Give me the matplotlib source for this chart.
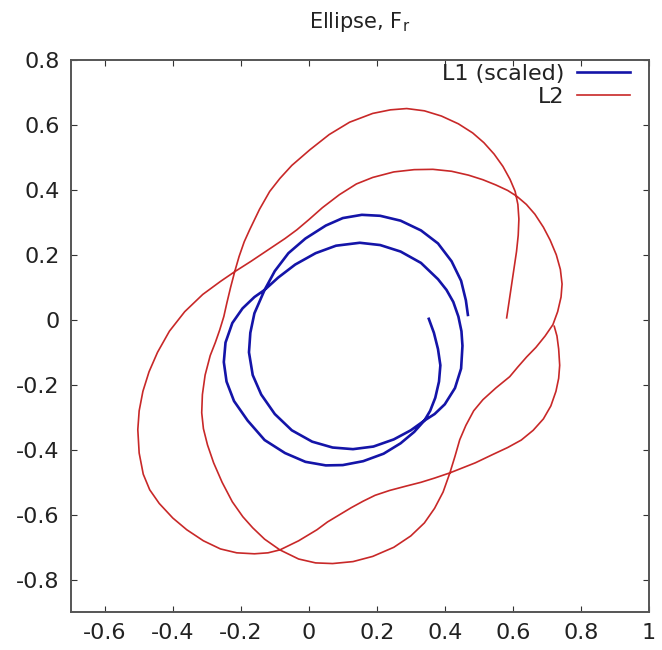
import matplotlib
matplotlib.use('Agg')
import matplotlib.pyplot as plt
from matplotlib.ticker import FuncFormatter

# L1 (scaled) -- blue, traced along the path
l1_x = [0.353, 0.368, 0.380, 0.387, 0.383, 0.372, 0.357, 0.340, 0.310, 0.270,
        0.220, 0.160, 0.100, 0.050, -0.010, -0.070, -0.130, -0.180, -0.220, -0.242,
        -0.250, -0.245, -0.225, -0.195, -0.160, -0.130, -0.090, -0.040, 0.020, 0.080,
        0.150, 0.210, 0.270, 0.330, 0.380, 0.405, 0.425, 0.440, 0.449, 0.452, 0.448, 0.430,
        0.400, 0.370, 0.340, 0.300, 0.250, 0.190, 0.130, 0.070, 0.010, -0.050,
        -0.100, -0.140, -0.165, -0.176, -0.172, -0.160, -0.130, -0.100, -0.060, -0.010,
        0.050, 0.100, 0.156, 0.210, 0.270, 0.330, 0.380, 0.420, 0.448, 0.462, 0.468]
l1_y = [0.003, -0.040, -0.090, -0.140, -0.190, -0.240, -0.280, -0.310, -0.345, -0.380,
        -0.412, -0.435, -0.447, -0.448, -0.437, -0.410, -0.370, -0.310, -0.250, -0.190,
        -0.130, -0.070, -0.010, 0.035, 0.070, 0.092, 0.130, 0.170, 0.205, 0.228,
        0.237, 0.230, 0.210, 0.175, 0.125, 0.092, 0.055, 0.010, -0.035, -0.080, -0.150, -0.210,
        -0.260, -0.290, -0.310, -0.340, -0.368, -0.390, -0.398, -0.393, -0.375, -0.340,
        -0.290, -0.230, -0.170, -0.100, -0.040, 0.020, 0.092, 0.150, 0.205, 0.250,
        0.290, 0.313, 0.323, 0.320, 0.305, 0.275, 0.235, 0.180, 0.120, 0.060, 0.015]

# L2 -- red
l2_x = [0.722, 0.730, 0.735, 0.738, 0.735, 0.727, 0.712, 0.690, 0.660, 0.625,
        0.585, 0.540, 0.490, 0.415, 0.370, 0.330, 0.285, 0.238, 0.195, 0.160,
        0.125, 0.090, 0.055, 0.024, -0.030, -0.085, -0.120, -0.160, -0.212, -0.260,
        -0.310, -0.359, -0.400, -0.440, -0.468, -0.487, -0.499, -0.503, -0.499, -0.488,
        -0.470, -0.445, -0.410, -0.365, -0.312, -0.260, -0.218, -0.170, -0.120, -0.070,
        -0.035, 0.000, 0.040, 0.090, 0.140, 0.188, 0.250, 0.310, 0.365, 0.420,
        0.470, 0.512, 0.550, 0.585, 0.612, 0.640, 0.665, 0.690, 0.710, 0.728,
        0.740, 0.745, 0.742, 0.732, 0.718, 0.695, 0.668, 0.641, 0.615, 0.591,
        0.550, 0.512, 0.485, 0.462, 0.444, 0.430, 0.415, 0.395, 0.370, 0.340,
        0.300, 0.250, 0.188, 0.130, 0.070, 0.020, -0.030, -0.085, -0.130, -0.165,
        -0.194, -0.225, -0.255, -0.280, -0.298, -0.310, -0.315, -0.313, -0.305, -0.290,
        -0.275, -0.262, -0.250, -0.241, -0.230, -0.218, -0.205, -0.190, -0.174, -0.145,
        -0.115, -0.085, -0.050, 0.003, 0.060, 0.120, 0.188, 0.240, 0.288, 0.340,
        0.390, 0.440, 0.482, 0.515, 0.545, 0.571, 0.592, 0.607, 0.615, 0.618,
        0.616, 0.611, 0.604, 0.597, 0.589, 0.582]
l2_y = [-0.020, -0.050, -0.090, -0.140, -0.180, -0.220, -0.265, -0.305, -0.340, -0.370,
        -0.393, -0.415, -0.440, -0.471, -0.487, -0.500, -0.512, -0.525, -0.540, -0.558,
        -0.578, -0.600, -0.622, -0.646, -0.680, -0.708, -0.717, -0.720, -0.717, -0.705,
        -0.680, -0.646, -0.610, -0.565, -0.523, -0.475, -0.410, -0.338, -0.280, -0.220,
        -0.160, -0.100, -0.035, 0.025, 0.078, 0.118, 0.148, 0.180, 0.215, 0.250,
        0.277, 0.308, 0.345, 0.385, 0.418, 0.438, 0.455, 0.462, 0.463, 0.457,
        0.445, 0.431, 0.415, 0.398, 0.380, 0.355, 0.325, 0.285, 0.245, 0.200,
        0.155, 0.110, 0.070, 0.025, -0.015, -0.050, -0.085, -0.114, -0.145, -0.175,
        -0.210, -0.246, -0.280, -0.325, -0.369, -0.420, -0.471, -0.530, -0.580, -0.625,
        -0.665, -0.700, -0.728, -0.744, -0.750, -0.748, -0.736, -0.708, -0.675, -0.640,
        -0.606, -0.560, -0.500, -0.440, -0.385, -0.335, -0.286, -0.230, -0.170, -0.110,
        -0.070, -0.031, 0.010, 0.052, 0.100, 0.148, 0.195, 0.240, 0.277, 0.340,
        0.395, 0.435, 0.475, 0.523, 0.570, 0.608, 0.635, 0.646, 0.650, 0.643,
        0.627, 0.603, 0.575, 0.545, 0.510, 0.472, 0.432, 0.395, 0.355, 0.310,
        0.260, 0.210, 0.160, 0.110, 0.055, 0.006]

x_ticks = [-0.6, -0.4, -0.2, 0, 0.2, 0.4, 0.6, 0.8, 1]
y_ticks = [-0.8, -0.6, -0.4, -0.2, 0, 0.2, 0.4, 0.6, 0.8]

plt.rcParams['axes.unicode_minus'] = False
plt.rcParams['mathtext.default'] = 'regular'
plt.rcParams['font.family'] = ['DejaVu Sans']

fig = plt.figure(figsize=(6.62, 6.5), dpi=100)
ax = fig.add_axes([0.107, 0.058, 0.873, 0.850])

line1, = ax.plot(l1_x, l1_y, color='#1414a8', lw=1.9)
line2, = ax.plot(l2_x, l2_y, color='#c82828', lw=1.2)

ax.set_xlim(-0.7, 1.0)
ax.set_ylim(-0.9, 0.8)
ax.set_xticks(x_ticks)
ax.set_yticks(y_ticks)
fmt = FuncFormatter(lambda v, p: '%g' % round(v, 2))
ax.xaxis.set_major_formatter(fmt)
ax.yaxis.set_major_formatter(fmt)
ax.tick_params(direction='in', top=True, right=True, length=4, width=0.8,
               labelsize=16, colors='#333333', labelcolor='#222222', pad=8)
for s in ax.spines.values():
    s.set_color('#555555')
    s.set_linewidth(1.4)

ax.set_title('Ellipse, F$_r$', fontsize=15, color='#222222', pad=23)

leg1 = ax.legend([line1], ['L1 (scaled)'], loc='upper right', bbox_to_anchor=(0.967, 0.993),
                 frameon=False, markerfirst=False, fontsize=16, borderpad=0, borderaxespad=0,
                 handlelength=2.35, handletextpad=0.6)
ax.add_artist(leg1)
leg2 = ax.legend([line2], ['L2'], loc='upper right', bbox_to_anchor=(0.967, 0.951),
                 frameon=False, markerfirst=False, fontsize=16, borderpad=0, borderaxespad=0,
                 handlelength=2.35, handletextpad=0.6)
for lg in (leg1, leg2):
    for t in lg.get_texts():
        t.set_color('#222222')

fig.savefig('out.png', dpi=100)
